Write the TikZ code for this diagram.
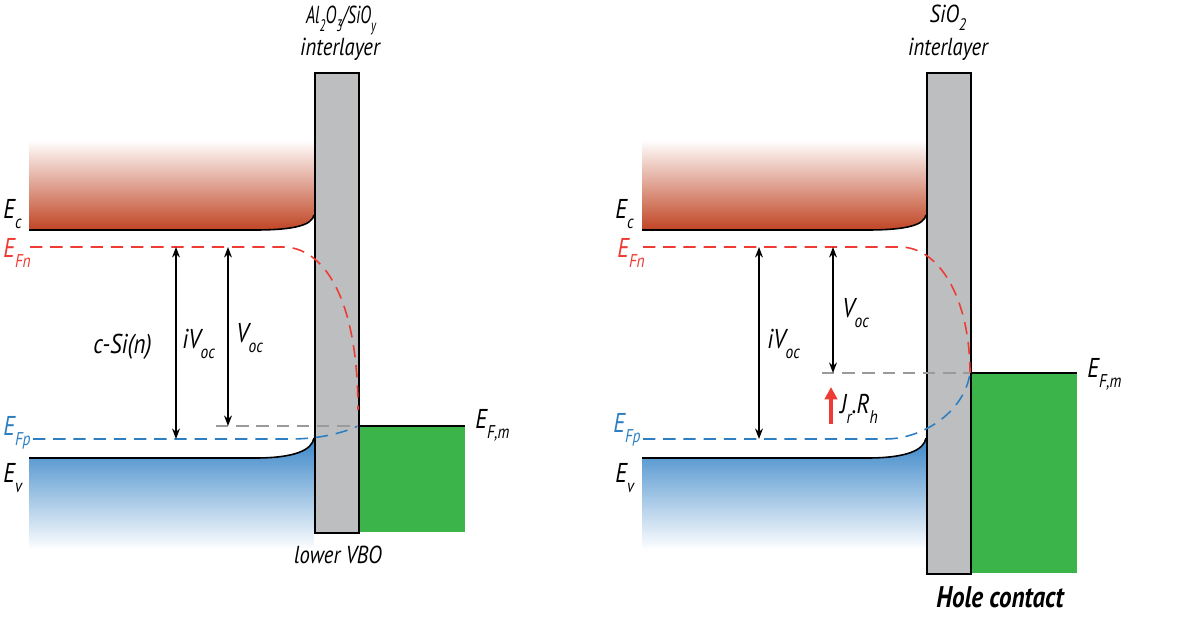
\documentclass[tikz,border=0pt]{standalone}
\usepackage{fontspec}
\usepackage{graphicx}
\newfontfamily\lf{PT Sans}[FakeStretch=0.84]
\newfontfamily\lfb{PT Sans}[FakeStretch=0.84]
\usetikzlibrary{arrows.meta}
\definecolor{cbred}{HTML}{C04524}
\definecolor{vbblue}{HTML}{3A86C8}
\definecolor{efn}{HTML}{EE3B33}
\definecolor{efp}{HTML}{2E7FC1}
\definecolor{metal}{HTML}{3BB44A}
\definecolor{oxide}{HTML}{BCBEC0}
\definecolor{refgray}{HTML}{9A9A9A}
\newcommand\sbs[1]{\raisebox{-0.75ex}{\fontsize{10.5}{11}\selectfont #1}}
\newcommand\sbt[1]{\raisebox{-0.7ex}{\fontsize{9.5}{10}\selectfont #1}}
\begin{document}
\begin{tikzpicture}[x=0.02cm,y=-0.02cm,
  lab/.style={font=\lf\itshape\fontsize{15.5}{16}\selectfont, inner sep=0pt, anchor=base west},
  ttl/.style={font=\lf\itshape\fontsize{14}{15}\selectfont, inner sep=0pt, anchor=base},
  band/.style={line width=0.9pt, black},
  fn/.style={efn, line width=0.9pt, dash pattern=on 7pt off 4.5pt},
  fp/.style={efp, line width=0.9pt, dash pattern=on 7pt off 4.5pt},
  gd/.style={refgray, line width=0.9pt, dash pattern=on 7pt off 4.5pt},
  dim/.style={line width=0.8pt, {Stealth[length=6pt,width=4.5pt]}-{Stealth[length=6pt,width=4.5pt]}},
  ins/.style={fill=oxide, draw=black, line width=0.9pt},
  met/.style={fill=metal, draw=none}]
\useasboundingbox (0,0) rectangle (1200,616);

% ================= LEFT PANEL =================
\shade[top color=white, bottom color=cbred]
  (29,140) -- (314,140) -- (314,215) .. controls (312,225) and (295,230) .. (255,230) -- (29,230) -- cycle;
\shade[top color=vbblue, bottom color=white]
  (29,458) -- (255,458) .. controls (295,458) and (312,450) .. (314,438) -- (314,550) -- (29,550) -- cycle;
\draw[band] (29,230) -- (255,230) .. controls (295,230) and (312,225) .. (314,215);
\draw[band] (29,458) -- (255,458) .. controls (295,458) and (312,450) .. (314,438);
\fill[met] (358,426) rectangle (465,532);
\node[ins, minimum width=44*0.02cm, minimum height=460*0.02cm, inner sep=0pt, anchor=north west] (boxL) at (314,72) {};
\draw[band] (358,426) -- (465,426);
\coordinate (fnL0) at (30,247); \coordinate (fnL1) at (283,247); \coordinate (fnL2) at (358,410);
\draw[fn] (fnL0) -- (fnL1) .. controls (322,247) and (358,295) .. (fnL2);
\coordinate (fpL0) at (33,439); \coordinate (fpL1) at (290,439); \coordinate (fpL2) at (358,426);
\draw[fp] (fpL0) -- (fpL1) .. controls (322,439) and (345,432) .. (fpL2);
\coordinate (gL0) at (216,426); \coordinate (gL1) at (358,426);
\draw[gd] (gL0) -- (gL1);
\coordinate (aL1t) at (176,247); \coordinate (aL1b) at (176,439);
\coordinate (aL2t) at (228,247); \coordinate (aL2b) at (228,426);
\draw[dim] (aL1t) -- (aL1b);
\draw[dim] (aL2t) -- (aL2b);

\node[lab] (EcL) at (3,218) {E\sbs{c}};
\node[lab, text=efn] (EfnL) at (3,257) {E\sbs{Fn}};
\node[lab, text=efp] (EfpL) at (3,435) {E\sbs{Fp}};
\node[lab] (EvL) at (3,482) {E\sbs{v}};
\node[lab] (EfmL) at (475,428) {E\sbs{F,m}};
\node[lab] (cSi) at (93,353) {c-Si(n)};
\node[lab] (iVocL) at (182,348) {iV\sbs{oc}};
\node[lab] (VocL) at (236,342) {V\sbs{oc}};
\node[ttl] (vbo) at (338,563) {lower VBO};
\node[ttl] (tL1) at (341,23) {\scalebox{0.8}[1]{Al\sbt{2}O\sbt{3}/SiO\sbt{y}}};
\node[ttl] (tL2) at (340,55) {interlayer};

% ================= RIGHT PANEL =================
\shade[top color=white, bottom color=cbred]
  (642,140) -- (926,140) -- (926,215) .. controls (924,225) and (907,230) .. (867,230) -- (642,230) -- cycle;
\shade[top color=vbblue, bottom color=white]
  (642,458) -- (867,458) .. controls (907,458) and (924,450) .. (926,438) -- (926,550) -- (642,550) -- cycle;
\draw[band] (642,230) -- (867,230) .. controls (907,230) and (924,225) .. (926,215);
\draw[band] (642,458) -- (867,458) .. controls (907,458) and (924,450) .. (926,438);
\fill[met] (970,373) rectangle (1077,573);
\node[ins, minimum width=44*0.02cm, minimum height=501*0.02cm, inner sep=0pt, anchor=north west] (boxR) at (926,72) {};
\draw[band] (970,373) -- (1077,373);
\coordinate (fnR0) at (643,247); \coordinate (fnR1) at (900,247); \coordinate (fnR2) at (970,373);
\draw[fn] (fnR0) -- (fnR1) .. controls (940,247) and (970,300) .. (fnR2);
\coordinate (fpR0) at (643,439); \coordinate (fpR1) at (885,439); \coordinate (fpR2) at (970,373);
\draw[fp] (fpR0) -- (fpR1) .. controls (925,439) and (965,410) .. (fpR2);
\coordinate (gR0) at (822,373); \coordinate (gR1) at (970,373);
\draw[gd] (gR0) -- (gR1);
\coordinate (aR1t) at (759,247); \coordinate (aR1b) at (759,439);
\coordinate (aR2t) at (833,247); \coordinate (aR2b) at (833,373);
\draw[dim] (aR1t) -- (aR1b);
\draw[dim] (aR2t) -- (aR2b);
\coordinate (jr0) at (831,424); \coordinate (jr1) at (831,387);
\draw[efn, line width=2.6pt, -{Triangle[length=7pt,width=7pt]}] (jr0) -- (jr1);

\node[lab] (EcR) at (615,218) {E\sbs{c}};
\node[lab, text=efn] (EfnR) at (617,257) {E\sbs{Fn}};
\node[lab, text=efp] (EfpR) at (613,432) {E\sbs{Fp}};
\node[lab] (EvR) at (615,482) {E\sbs{v}};
\node[lab] (EfmR) at (1087,377) {E\sbs{F,m}};
\node[lab] (iVocR) at (767,348) {iV\sbs{oc}};
\node[lab] (VocR) at (842,317) {V\sbs{oc}};
\node[lab] (JrRh) at (840,413) {J\sbs{r}.R\sbs{h}};
\node[ttl] (tR1) at (948,22) {SiO\sbt{2}};
\node[ttl] (tR2) at (948,55) {interlayer};
\node[font=\lfb\itshape\bfseries\fontsize{17}{18}\selectfont, inner sep=0pt, anchor=base] (hole) at (1000,607) {Hole contact};
\end{tikzpicture}
\end{document}
